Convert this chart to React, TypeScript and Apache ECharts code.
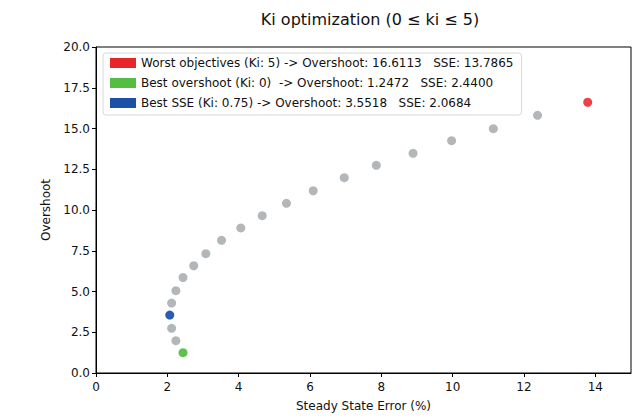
import React, { useEffect, useRef } from "react";
import * as echarts from "echarts";

const kiValues = [0, 0.25, 0.5, 0.75, 1, 1.25, 1.5, 1.75, 2, 2.25, 2.5, 2.75, 3, 3.25, 3.5, 3.75, 4, 4.25, 4.5, 4.75, 5];
const sseValues = [2.44, 2.24, 2.12, 2.0684, 2.12, 2.24, 2.44, 2.74, 3.08, 3.52, 4.06, 4.66, 5.34, 6.09, 6.96, 7.86, 8.89, 9.97, 11.14, 12.38, 13.7865];
const overshootValues = [1.2472, 1.98, 2.74, 3.5518, 4.29, 5.05, 5.86, 6.58, 7.32, 8.14, 8.9, 9.65, 10.41, 11.18, 11.98, 12.74, 13.48, 14.25, 14.99, 15.81, 16.6113];
const xTicks = [0, 2, 4, 6, 8, 10, 12, 14];
const worstIdx = 20;
const bestOvershootIdx = 0;
const bestSseIdx = 3;
const legendNames = [
  "Worst objectives (Ki: 5) -> Overshoot: 16.6113   SSE: 13.7865",
  "Best overshoot (Ki: 0)  -> Overshoot: 1.2472   SSE: 2.4400",
  "Best SSE (Ki: 0.75) -> Overshoot: 3.5518   SSE: 2.0684",
];
const colors = ["#e8262a", "#55bd42", "#1a50a6"];
const pointColors = ["#ee4048", "#5cc24a", "#2a5cb0"];

export default function App() {
  const ref = useRef<HTMLDivElement>(null);
  useEffect(() => {
    if (!ref.current) return;
    const chart = echarts.init(ref.current, undefined, { renderer: "svg" });
    const font = "DejaVu Sans";
    const grayData = kiValues
      .map((_, i) => i)
      .filter((i) => i !== worstIdx && i !== bestOvershootIdx && i !== bestSseIdx)
      .map((i) => [sseValues[i], overshootValues[i]]);
    const specials = [worstIdx, bestOvershootIdx, bestSseIdx];
    chart.setOption({
      animation: false,
      backgroundColor: "#ffffff",
      textStyle: { fontFamily: font },
      title: {
        text: "Ki optimization (0 \u2264 ki \u2264 5)",
        left: 365,
        textAlign: "center",
        top: 6,
        textStyle: { fontFamily: font, fontSize: 16, fontWeight: "normal", color: "#111" },
      },
      grid: {
        left: 96,
        right: 10,
        top: 47,
        bottom: 45,
        show: true,
        borderColor: "#000",
        borderWidth: 1,
        backgroundColor: "transparent",
      },
      legend: {
        orient: "vertical",
        left: 103,
        top: 53,
        data: legendNames.map((n, i) => ({ name: n, icon: "rect", itemStyle: { color: colors[i], opacity: 1 } })),
        itemWidth: 26,
        itemHeight: 10,
        itemGap: 8,
        padding: [4, 8, 6, 7],
        borderColor: "#d8d8d8",
        borderWidth: 1,
        borderRadius: 3,
        backgroundColor: "#ffffff",
        textStyle: { fontFamily: font, fontSize: 12, color: "#111" },
        selectedMode: false,
      },
      xAxis: {
        type: "value",
        min: 0,
        max: 15,
        interval: 2,
        name: "Steady State Error (%)",
        nameLocation: "middle",
        nameGap: 27,
        nameTextStyle: { fontFamily: font, fontSize: 12, color: "#111" },
        axisLine: { show: true, onZero: false, lineStyle: { color: "#000" } },
        axisTick: { show: true, length: 4, customValues: xTicks, lineStyle: { color: "#000" } },
        axisLabel: { customValues: xTicks, fontFamily: font, fontSize: 12, color: "#111", margin: 8 },
        splitLine: { show: false },
      },
      yAxis: {
        type: "value",
        min: 0,
        max: 20,
        interval: 2.5,
        name: "Overshoot",
        nameLocation: "middle",
        nameGap: 44,
        nameTextStyle: { fontFamily: font, fontSize: 12, color: "#111" },
        axisLine: { show: true, onZero: false, lineStyle: { color: "#000" } },
        axisTick: { show: true, length: 4, lineStyle: { color: "#000" } },
        axisLabel: {
          fontFamily: font,
          fontSize: 12,
          color: "#111",
          margin: 6,
          formatter: (v: number) => v.toFixed(1),
        },
        splitLine: { show: false },
      },
      series: [
        {
          name: "all",
          type: "scatter",
          symbolSize: 9,
          itemStyle: { color: "#b4b7ba", opacity: 1 },
          data: grayData,
          z: 2,
        },
        ...specials.map((idx, i) => ({
          name: legendNames[i],
          type: "scatter",
          symbolSize: 9,
          itemStyle: { color: pointColors[i], opacity: 1 },
          data: [[sseValues[idx], overshootValues[idx]]],
          z: 3,
        })),
      ],
    });
    return () => chart.dispose();
  }, []);
  return (
    <div
      ref={ref}
      style={{ position: "absolute", left: 0, top: 0, width: 641, height: 418 }}
    />
  );
}
